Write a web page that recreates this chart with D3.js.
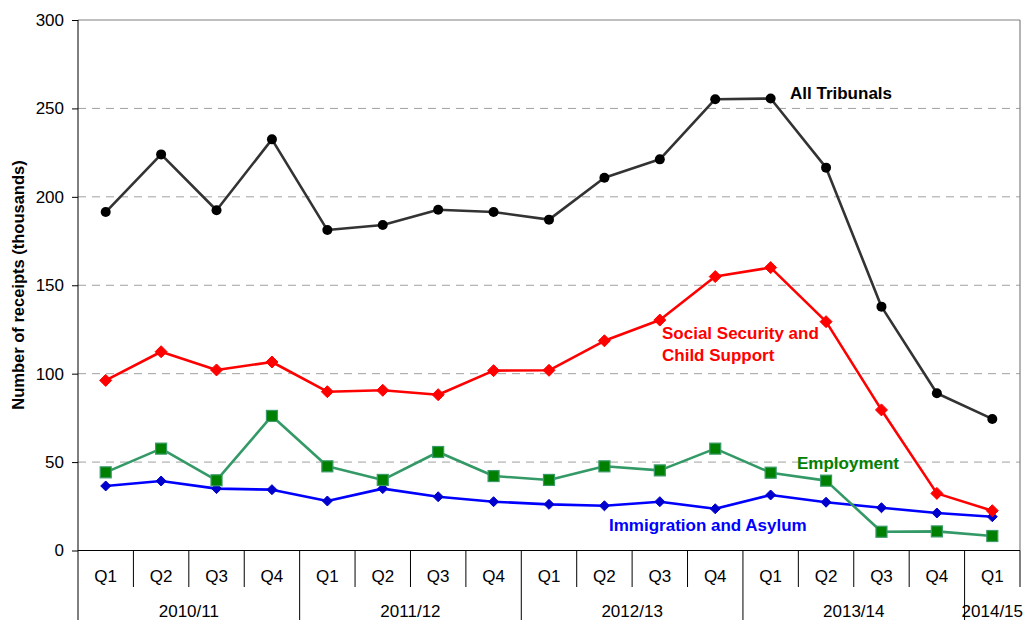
<!DOCTYPE html>
<html><head><meta charset="utf-8">
<script src="https://cdn.jsdelivr.net/npm/d3@7"></script>
<style>body{margin:0;background:#fff}svg{display:block;font-family:"Liberation Sans",Arial,sans-serif}</style>
</head><body><svg id="c" width="1024" height="620"></svg>
<script>
const years = ["2010/11","2011/12","2012/13","2013/14","2014/15"];
const quarters = ["Q1","Q2","Q3","Q4","Q1","Q2","Q3","Q4","Q1","Q2","Q3","Q4","Q1","Q2","Q3","Q4","Q1"];
const yTicks = [0,50,100,150,200,250,300];
const allTribunals = [191.4,224,192.4,232.5,181.2,184.1,192.7,191.4,187.1,210.8,221.2,255.2,255.6,216.5,137.9,88.9,74.4];
const socialSecurity = [96.2,112.4,102.1,106.6,89.8,90.6,88.1,101.7,101.9,118.6,130.3,154.9,160,129.4,79.5,32.3,22.5];
const employment = [44.2,57.6,39.7,76.1,47.6,39.9,55.7,42.1,39.9,47.6,45.3,57.6,44,39.5,10.6,10.8,8.2];
const immigration = [36.5,39.3,35,34.4,28,35,30.4,27.6,26.1,25.3,27.6,23.6,31.4,27.3,24.2,21.2,19.1];

const FS = 17;
const svg = d3.select("#c");
const L = 78, R = 1020, T = 20, B = 550.5;
const idx = d3.range(quarters.length);
const x = d3.scaleBand().domain(idx).range([L, R]);
const y = d3.scaleLinear().domain([0,300]).range([B, T]);
const cx = i => x(i) + x.bandwidth()/2;

// gridlines
svg.append("g").selectAll("line").data(yTicks.filter(d=>d>0 && d<300)).join("line")
  .attr("x1", L).attr("x2", R).attr("y1", d=>y(d)).attr("y2", d=>y(d))
  .attr("stroke", "#a0a0a0").attr("stroke-width", 1).attr("stroke-dasharray", "8,6");
// border top & right
svg.append("line").attr("x1", L).attr("x2", R).attr("y1", y(300)).attr("y2", y(300)).attr("stroke", "#808080").attr("stroke-width",1.2);
svg.append("line").attr("x1", R).attr("x2", R).attr("y1", T).attr("y2", B).attr("stroke", "#808080").attr("stroke-width",1.2);

// y axis
const yAxis = d3.axisLeft(y).tickValues(yTicks).tickSize(6).tickPadding(8);
const ga = svg.append("g").attr("transform", `translate(${L},0)`).call(yAxis);
ga.select(".domain").remove();
ga.attr("font-size", FS).attr("font-family", "Liberation Sans, Arial, sans-serif");
ga.selectAll(".tick line").attr("stroke", "#000");
ga.selectAll(".tick text").attr("fill", "#000");
svg.append("line").attr("x1", L).attr("x2", L).attr("y1", T).attr("y2", 620).attr("stroke", "#000").attr("stroke-width", 1);

// x axis
svg.append("line").attr("x1", L).attr("x2", R).attr("y1", B).attr("y2", B).attr("stroke", "#000");
const gx = svg.append("g").attr("font-size", FS);
gx.selectAll("line.q").data(d3.range(1, quarters.length+1)).join("line").attr("class","q")
  .attr("x1", i => (i < quarters.length ? x(i) : R)).attr("x2", i => (i < quarters.length ? x(i) : R))
  .attr("y1", B).attr("y2", i => (i % 4 === 0 && i < quarters.length ? 620 : 587))
  .attr("stroke", "#000").attr("stroke-width", 1);
gx.selectAll("text.q").data(idx).join("text").attr("class","q")
  .attr("x", cx).attr("y", 582).attr("text-anchor","middle").text(i => quarters[i]);
const yearCenters = years.map((yr, k) => {
  const s = k*4, e = Math.min(k*4+4, quarters.length);
  return {yr, c: (x(s) + (e < quarters.length ? x(e) : R)) / 2};
});
gx.selectAll("text.y").data(yearCenters).join("text").attr("class","y")
  .attr("x", d => d.c).attr("y", 617).attr("text-anchor","middle").text(d => d.yr);

// y title
svg.append("text").attr("transform", "translate(24,285) rotate(-90)").attr("text-anchor","middle")
  .attr("font-size", 16.5).attr("font-weight","bold").text("Number of receipts (thousands)");

const line = d3.line().x((d,i)=>cx(i)).y(d=>y(d));
function series(data, lineColor, markerFn) {
  svg.append("path").datum(data).attr("d", line).attr("fill","none").attr("stroke", lineColor).attr("stroke-width", 2.6).attr("stroke-linejoin","round");
  const g = svg.append("g");
  data.forEach((v,i) => markerFn(g, cx(i), y(v)));
}
const diamond = (color, r) => (g, px, py) => g.append("path")
  .attr("d", `M${px},${py-r}L${px+r},${py}L${px},${py+r}L${px-r},${py}Z`).attr("fill", color).attr("stroke", color).attr("stroke-width", 1);
const square = (g, px, py) => g.append("rect").attr("x", px-5.5).attr("y", py-5.5).attr("width", 11).attr("height", 11)
  .attr("fill", "#008000").attr("stroke", "#3a9a6a").attr("stroke-width", 1.2);
const circle = (g, px, py) => g.append("circle").attr("cx", px).attr("cy", py).attr("r", 5).attr("fill", "#000");

series(immigration, "#0000ff", diamond("#0000cc", 5));
series(employment, "#339966", square);
series(socialSecurity, "#ff0000", diamond("#ff0000", 6));
series(allTribunals, "#333333", circle);

const lab = (t, px, py, col) => svg.append("text").attr("x", px).attr("y", py).attr("fill", col)
  .attr("font-size", FS).attr("font-weight", "bold").text(t);
lab("All Tribunals", 790, 99, "#000");
lab("Social Security and", 662, 339, "#ff0000");
lab("Child Support", 662, 361, "#ff0000");
lab("Employment", 797, 469, "#008000");
lab("Immigration and Asylum", 609, 531, "#0000ff");
</script></body></html>
